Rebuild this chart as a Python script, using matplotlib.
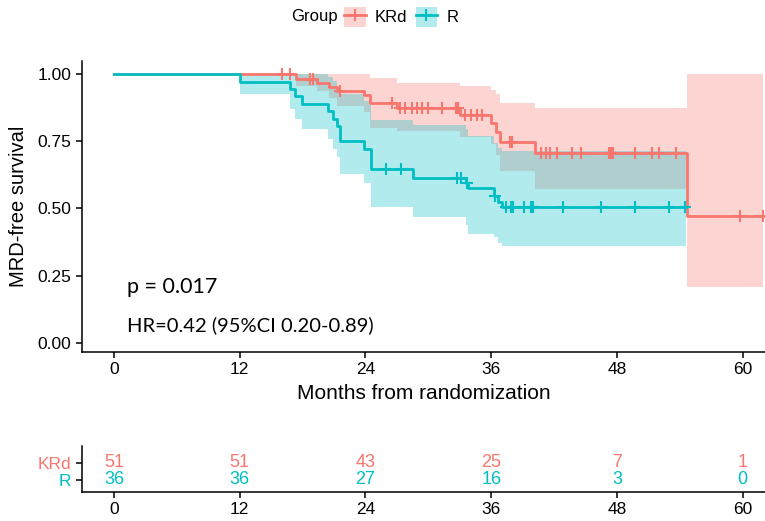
import numpy as np
import matplotlib
matplotlib.use("Agg")
import matplotlib.pyplot as plt
from matplotlib.patches import Patch
from matplotlib.lines import Line2D
from matplotlib.legend_handler import HandlerTuple

PINK = "#F8766D"
TEAL = "#00BFC4"

# KRd arm: step times, survival and 95% band
krd_time = [0, 17.4, 19.4, 20.5, 21.3, 23.9, 24.4, 27.0, 33.0, 36.0, 36.5, 36.8, 40.2, 54.7, 61.9]
krd_surv = [1.0, 0.982, 0.965, 0.950, 0.935, 0.921, 0.893, 0.875, 0.849, 0.818, 0.785, 0.746, 0.707, 0.473, 0.473]
krd_lower = [1.0, 0.955, 0.935, 0.91, 0.88, 0.86, 0.80, 0.787, 0.765, 0.74, 0.70, 0.64, 0.571, 0.209, 0.209]
krd_upper = [1.0, 1.0, 1.0, 1.0, 1.0, 1.0, 0.985, 0.968, 0.955, 0.94, 0.925, 0.893, 0.875, 1.0, 1.0]
krd_cens = [16.0, 16.8, 18.7, 19.0, 21.6, 26.5, 27.3, 27.8, 28.4, 28.9, 29.4, 30.0, 31.3,
            32.6, 32.8, 33.5, 34.1, 34.6, 35.1, 37.8, 38.0, 40.7, 41.2, 41.6, 42.3, 43.7,
            44.6, 47.2, 47.4, 47.6, 49.7, 51.3, 52.0, 53.6, 59.7, 61.9]

# R arm
r_time = [0, 12.0, 16.8, 17.3, 17.9, 20.4, 20.9, 21.3, 21.6, 23.9, 24.5, 28.5, 33.6, 33.8, 36.3, 36.6, 37.0, 54.6]
r_surv = [1.0, 0.972, 0.944, 0.917, 0.889, 0.861, 0.833, 0.806, 0.750, 0.722, 0.645, 0.613, 0.594, 0.576, 0.545, 0.526, 0.504, 0.504]
r_lower = [1.0, 0.924, 0.87, 0.832, 0.795, 0.757, 0.722, 0.69, 0.627, 0.594, 0.504, 0.47, 0.437, 0.404, 0.395, 0.372, 0.36, 0.36]
r_upper = [1.0, 1.0, 1.0, 1.0, 1.0, 0.99, 0.975, 0.955, 0.925, 0.90, 0.83, 0.81, 0.795, 0.77, 0.745, 0.725, 0.713, 0.713]
r_cens = [26.0, 27.4, 32.7, 33.1, 33.7, 36.4, 37.4, 37.9, 38.1, 39.1, 39.8, 40.0, 42.8, 46.5, 49.7, 53.0, 54.5]

# number at risk table
risk_times = [0, 12, 24, 36, 48, 60]
risk_krd = [51, 51, 43, 25, 7, 1]
risk_r = [36, 36, 27, 16, 3, 0]

W, H = 765, 521
SANS = ["Liberation Sans", "DejaVu Sans"]
plt.rcParams["font.family"] = SANS


def px_axes(fig, left, top, right, bottom):
    return fig.add_axes([left / W, 1 - bottom / H, (right - left) / W, (bottom - top) / H])


def surv_at(times, surv, t):
    idx = np.searchsorted(times, t, side="right") - 1
    return np.asarray(surv)[idx]


def style_axes(ax):
    for s in ("top", "right"):
        ax.spines[s].set_visible(False)
    for s in ("left", "bottom"):
        ax.spines[s].set_linewidth(1.1)
        ax.spines[s].set_color("black")
    ax.tick_params(length=4, width=1.1, color="black", labelcolor="black")


fig = plt.figure(figsize=(W / 100, H / 100), dpi=100)

# main survival panel
ax = px_axes(fig, 82, 60.5, 765, 352)
ax.fill_between(krd_time, krd_lower, krd_upper, step="post", color=PINK, alpha=0.3, lw=0)
ax.fill_between(r_time, r_lower, r_upper, step="post", color=TEAL, alpha=0.3, lw=0)
ax.step(krd_time, krd_surv, where="post", color=PINK, lw=2)
ax.step(r_time, r_surv, where="post", color=TEAL, lw=2)
ax.plot(krd_cens, surv_at(krd_time, krd_surv, krd_cens), ls="none", marker="+",
        ms=8, mew=1.5, color=PINK)
ax.plot(r_cens, surv_at(r_time, r_surv, r_cens), ls="none", marker="+",
        ms=8, mew=1.5, color=TEAL)

ax.set_xlim(-3.05, 62.12)
ax.set_ylim(-0.0335, 1.0502)
ax.set_xticks(risk_times)
ax.set_yticks([0, 0.25, 0.5, 0.75, 1.0])
ax.set_yticklabels(["0.00", "0.25", "0.50", "0.75", "1.00"])
style_axes(ax)
ax.tick_params(labelsize=12.5)
ax.set_xlabel("Months from randomization", fontsize=15, labelpad=5)
ax.set_ylabel("MRD-free survival", fontsize=14.5, labelpad=7)

ax.text(1.25, 0.208, "p = 0.017", fontsize=15.5, family=["Lato", "DejaVu Sans"], va="center")
ax.text(1.25, 0.067, "HR=0.42 (95%CI 0.20-0.89)", fontsize=14.5,
        family=["Lato", "DejaVu Sans"], va="center")

# legend on top
handles = [(Patch(facecolor=PINK, alpha=0.3, lw=0),
            Line2D([], [], color=PINK, lw=2, marker="+", ms=9, mew=1.5)),
           (Patch(facecolor=TEAL, alpha=0.3, lw=0),
            Line2D([], [], color=TEAL, lw=2, marker="+", ms=9, mew=1.5))]
fig.legend(handles, ["KRd", "R"], loc="center left", bbox_to_anchor=(344 / W, 1 - 17 / H),
           ncol=2, frameon=False, fontsize=12, handlelength=1.3, handleheight=1.5,
           handletextpad=0.55, columnspacing=0.5, borderpad=0, borderaxespad=0,
           handler_map={tuple: HandlerTuple(ndivide=1)})
fig.text(338 / W, 1 - 17 / H, "Group", fontsize=12, ha="right", va="center")

# number at risk table
tab = px_axes(fig, 82, 446, 765, 492)
for t, a, b in zip(risk_times, risk_krd, risk_r):
    tab.text(t, 1, str(a), color=PINK, fontsize=13, ha="center", va="center")
    tab.text(t, 0, str(b), color=TEAL, fontsize=13, ha="center", va="center")
tab.set_xlim(-3.05, 62.12)
tab.set_ylim(-0.706, 2.0)
tab.set_xticks(risk_times)
tab.set_yticks([0, 1])
tab.set_yticklabels(["R", "KRd"])
style_axes(tab)
tab.tick_params(labelsize=12.5)
tab.get_yticklabels()[0].set_color(TEAL)
tab.get_yticklabels()[1].set_color(PINK)

fig.savefig("out.png", dpi=100)
